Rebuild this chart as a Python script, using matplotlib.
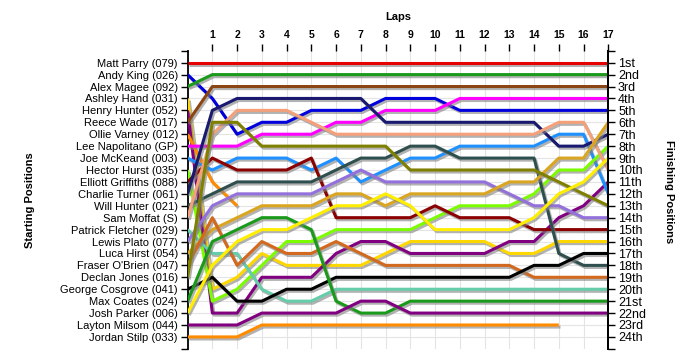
"""Lap chart: position of every driver after each lap of the race."""

import matplotlib

matplotlib.use("Agg")
import matplotlib.pyplot as plt
import matplotlib.patheffects as pe
import numpy as np

LAPS = list(range(0, 18))

DRIVERS = [
    "Matt Parry (079)", "Andy King (026)", "Alex Magee (092)", "Ashley Hand (031)",
    "Henry Hunter (052)", "Reece Wade (017)", "Ollie Varney (012)", "Lee Napolitano (GP)",
    "Joe McKeand (003)", "Hector Hurst (035)", "Elliott Griffiths (088)", "Charlie Turner (061)",
    "Will Hunter (021)", "Sam Moffat (S)", "Patrick Fletcher (029)", "Lewis Plato (077)",
    "Luca Hirst (054)", "Fraser O'Brien (047)", "Declan Jones (016)", "George Cosgrove (041)",
    "Max Coates (024)", "Josh Parker (006)", "Layton Milsom (044)", "Jordan Stilp (033)",
]

COLORS = [
    "#e60000", "#0000dd", "#1a9a1a", "#ffd700", "#800080", "#8b4513", "#ff8c00", "#ff00ff",
    "#1e90ff", "#7cfc00", "#8b0000", "#191970", "#2f4f4f", "#f4a07a", "#66cdaa", "#9370db",
    "#daa520", "#d2691e", "#808000", "#000000", "#1a9a1a", "#ffee00", "#800080", "#ff8c00",
]

N = None
# position after each lap (lap 0 = grid), None once retired
parry = [1] * 18
king = [2, 4, 7, 6, 6, 5, 5, 5, 4, 4, 4, 5, 5, 5, 5, 5, 5, 5]
magee = [3] + [2] * 17
hand = [4, 20, 19, 17, 18, 18, 18, 18, 17, 16, 16, 16, 16, 17, 17, 16, 16, 16]
h_hunter = [5, 22, 22, 19, 19, 19, 17, 16, 16, 17, 17, 17, 17, 16, 16, 14, 13, 11]
wade = [6] + [3] * 17
varney = [7, 11, 13] + [N] * 15
napolitano = [8, 8, 8, 7, 7, 7, 6, 6, 5, 5, 5, 4, 4, 4, 4, 4, 4, 4]
mckeand = [9, 10, 9, 9, 9, 10, 9, 11, 10, 9, 9, 8, 8, 8, 8, 7, 7, 12]
hurst = [10, 21, 20, 18, 16, 16, 15, 15, 15, 15, 14, 13, 13, 13, 12, 10, 10, 8]
griffiths = [11, 9, 10, 10, 10, 9, 14, 14, 14, 14, 13, 14, 14, 14, 15, 15, 15, 15]
turner = [12, 5, 4, 4, 4, 4, 4, 4, 6, 6, 6, 6, 6, 6, 6, 8, 8, 7]
w_hunter = [13, 12, 11, 11, 11, 11, 10, 9, 9, 8, 8, 9, 9, 9, 9, 17, 18, 18]
moffat = [14, 7, 5, 5, 5, 6, 7, 7, 7, 7, 7, 7, 7, 7, 7, 6, 6, 10]
fletcher = [15, 17, 17, 20, 21, 21, 20, 20, 20, 20, 20, 20, 20, 20, 20, 20, 20, 20]
plato = [16, 13, 12, 12, 12, 12, 11, 10, 11, 11, 11, 11, 11, 12, 13, 13, 14, 14]
l_hirst = [17, 15, 14, 13, 13, 13, 12, 12, 13, 12, 12, 12, 12, 11, 11, 9, 9, 6]
obrien = [18, 14, 18, 16, 17, 17, 16, 17, 18, 18, 18, 18, 18, 18, 19, 19, 19, 19]
jones = [19, 6, 6, 8, 8, 8, 8, 8, 8, 10, 10, 10, 10, 10, 10, 11, 12, 13]
cosgrove = [20, 19, 21, 21, 20, 20, 19, 19, 19, 19, 19, 19, 19, 19, 18, 18, 17, 17]
coates = [21, 16, 15, 14, 14, 15, 21, 22, 22, 21, 21, 21, 21, 21, 21, 21, 21, 21]
parker = [22, 18, 16, 15, 15, 14, 13, 13, 12, 13, 15, 15, 15, 15, 14, 12, 11, 9]
milsom = [23, 23, 23, 22, 22, 22, 22, 21, 21, 22, 22, 22, 22, 22, 22, 22, 22, 22]
stilp = [24, 24, 24] + [23] * 13 + [N, N]

POSITIONS = [
    parry, king, magee, hand, h_hunter, wade, varney, napolitano,
    mckeand, hurst, griffiths, turner, w_hunter, moffat, fletcher, plato,
    l_hirst, obrien, jones, cosgrove, coates, parker, milsom, stilp,
]

FINISH_LABELS = [
    "1st", "2nd", "3rd", "4th", "5th", "6th", "7th", "8th", "9th", "10th", "11th", "12th",
    "13th", "14th", "15th", "16th", "17th", "18th", "19th", "20th", "21st", "22nd", "23rd", "24th",
]

plt.rcParams["font.family"] = ["Liberation Sans", "DejaVu Sans"]
plt.rcParams["font.size"] = 8

fig = plt.figure(figsize=(7, 3.6), dpi=100)
ax = fig.add_axes([0.268, 0.031, 0.601, 0.828])

shadow = [pe.SimpleLineShadow(offset=(1.2, -1.5), shadow_color="#808080", alpha=0.6),
          pe.Normal()]

for pos, color in zip(POSITIONS, COLORS):
    y = np.array([np.nan if p is None else p for p in pos], dtype=float)
    ax.plot(LAPS, y, color=color, lw=2.2, solid_joinstyle="round",
            solid_capstyle="butt", path_effects=shadow, zorder=3)

ax.set_xlim(0, 17)
ax.set_ylim(25, 0)

# light grid at each lap and each position
for k in range(1, 18):
    ax.axvline(k, color="#e4e4e4", lw=0.8, zorder=1)
for p in range(1, 25):
    ax.axhline(p, color="#e4e4e4", lw=0.8, zorder=1)

ax.spines["top"].set_visible(False)
ax.spines["bottom"].set_visible(False)
ax.spines["left"].set_linewidth(1.3)
ax.spines["right"].set_linewidth(1.3)

ax.set_yticks(range(0, 26))
ax.set_yticklabels([""] + DRIVERS + [""])
ax.tick_params(axis="y", direction="out", length=5, width=1, pad=2)

ax.xaxis.tick_top()
ax.set_xticks(range(1, 18))
ax.set_xticklabels([str(k) for k in range(1, 18)], fontweight="bold")
ax.tick_params(axis="x", direction="out", length=5, width=1, pad=3, labelsize=7.5)
ax.set_xlabel("Laps", fontweight="bold", labelpad=7)
ax.xaxis.set_label_position("top")

ax2 = ax.twinx()
ax2.set_ylim(25, 0)
ax2.set_yticks(range(0, 26))
ax2.set_yticklabels([""] + FINISH_LABELS + [""], fontsize=9)
ax2.tick_params(axis="y", direction="out", length=5, width=1, pad=2)
for s in ("top", "bottom", "left"):
    ax2.spines[s].set_visible(False)
ax2.spines["right"].set_linewidth(1.3)

fig.text(0.043, 0.444, "Starting Positions", rotation=90, fontweight="bold",
         ha="center", va="center")
fig.text(0.955, 0.467, "Finishing Positions", rotation=270, fontweight="bold",
         ha="center", va="center")

fig.savefig("out.png", dpi=100)
